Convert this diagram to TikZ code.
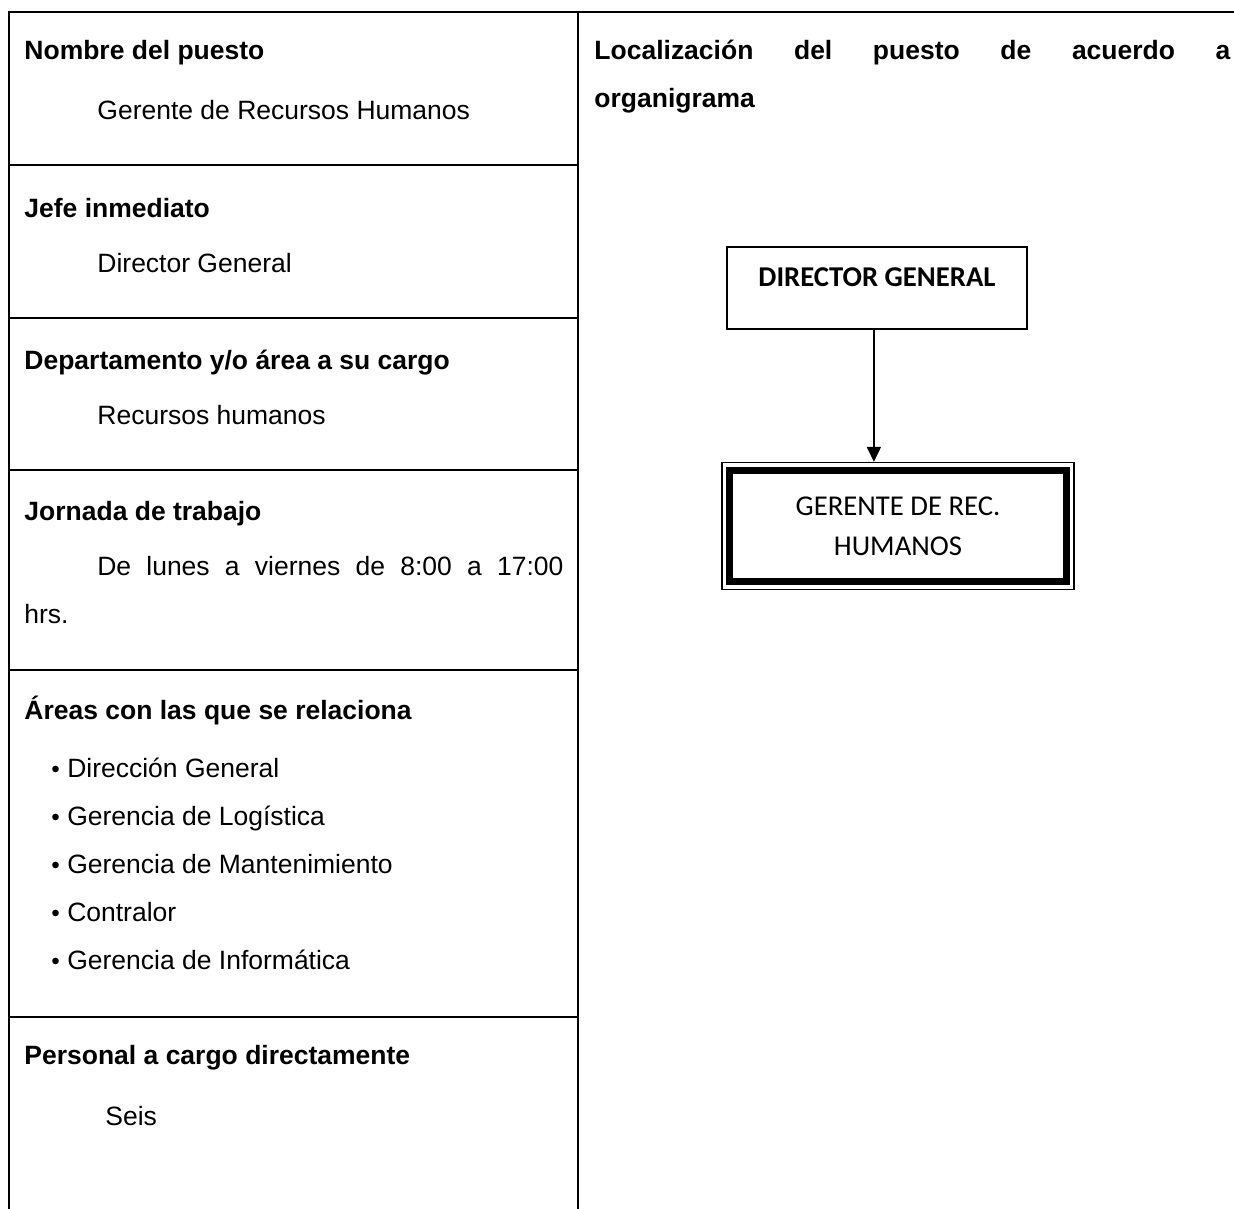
\documentclass[tikz,border=0pt]{standalone}
\usepackage{fontspec}
\setmainfont{Liberation Sans}
\newfontfamily\orgfont{Carlito}
\usetikzlibrary{arrows.meta,fit}

\newcommand{\itembul}{\raisebox{0.3pt}{\fontsize{11}{11}\selectfont•}\ }

\tikzset{
  rule/.style={line width=0.9pt},
  txt/.style={anchor=base west,inner sep=0pt,font=\fontsize{12}{21.7}\selectfont},
  head/.style={anchor=base west,inner sep=0pt,font=\fontsize{12}{21.7}\selectfont\bfseries},
  orgbox/.style={draw,align=center,inner sep=0pt,font=\orgfont\fontsize{13}{18.1}\selectfont},
  link/.style={line width=0.9pt,-{Triangle[length=6.8pt,width=6.3pt]}}
}

\begin{document}
\begin{tikzpicture}[x=0.453pt,y=-0.453pt]
\useasboundingbox (0,0) rectangle (1234,1209);

\draw[rule] (9,1209) -- (9,12) -- (1234,12);
\draw[rule] (578,12) -- (578,1209);
\foreach \y in {165,318,470,670,1017}
  \draw[rule] (9,\y) -- (578,\y);

\node[head] (nombre) at (24,60) {Nombre del puesto};
\node[txt] (puesto) at (97,120) {Gerente de Recursos Humanos};

\node[head] (jefe) at (24,218) {Jefe inmediato};
\node[txt] (director) at (97,273) {Director General};

\node[head] (depto) at (24,370) {Departamento y/o área a su cargo};
\node[txt] (area) at (97,425) {Recursos humanos};

\node[head] (jornada) at (24,521) {Jornada de trabajo};
\node[txt,text width=244.2pt,align=justify] (horario) at (24,576)
  {\hspace*{33pt}De lunes a viernes de 8:00 a 17:00\linebreak hrs.};

\node[head] (areas) at (24,720) {Áreas con las que se relaciona};
\node[txt] (rel1) at (51,778) {\itembul Dirección General};
\node[txt] (rel2) at (51,826) {\itembul Gerencia de Logística};
\node[txt] (rel3) at (51,874) {\itembul Gerencia de Mantenimiento};
\node[txt] (rel4) at (51,922) {\itembul Contralor};
\node[txt] (rel5) at (51,970) {\itembul Gerencia de Informática};

\node[head] (personal) at (24,1065) {Personal a cargo directamente};
\node[txt] (seis) at (105,1125) {Seis};

\node[head,text width=288.1pt,align=justify] (loc) at (594,60)
  {Localización del puesto de acuerdo a\linebreak organigrama};

\node[orgbox,line width=0.75pt,minimum width=135.9pt,minimum height=37.1pt,
  text height=9pt,text depth=10pt] (dir) at (877,288) {\bfseries DIRECTOR GENERAL};
\node[orgbox,line width=3.2pt,minimum width=152.7pt,minimum height=50.7pt]
  (ger) at (898,526) {GERENTE DE REC.\\HUMANOS};
\node[draw,line width=0.6pt,inner sep=1.8pt,fit=(ger)] (gerframe) {};

\coordinate (drop) at ([xshift=-1.4pt]dir.south);
\draw[link] (drop) -- (drop |- gerframe.north);
\end{tikzpicture}
\end{document}
